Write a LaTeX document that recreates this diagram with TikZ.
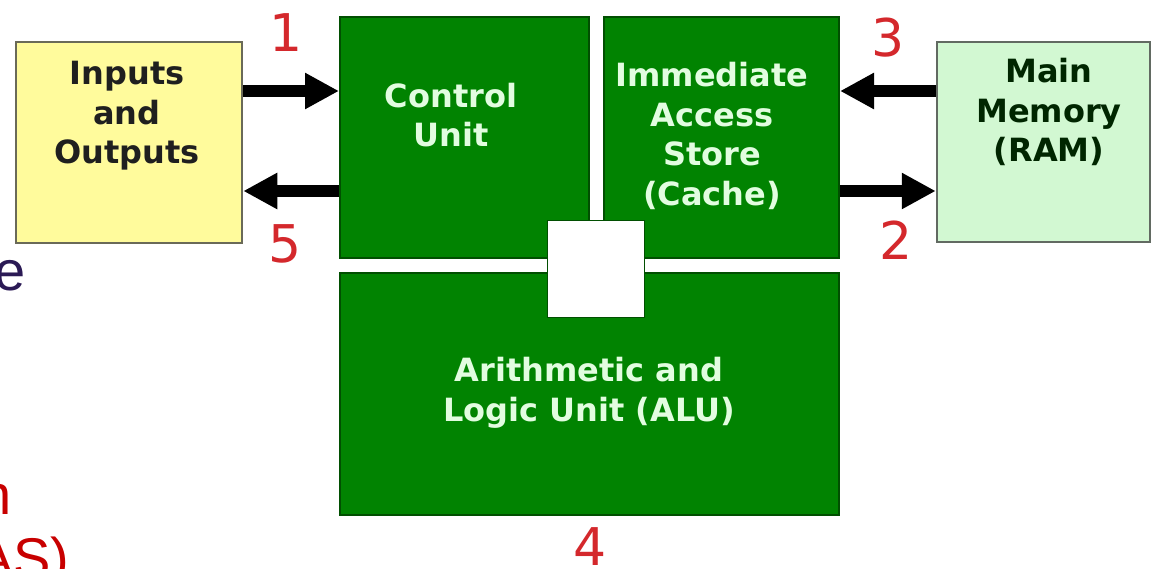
\documentclass[tikz,border=0pt]{standalone}
\usepackage{xcolor}
\usepackage{fontspec}
\setmainfont{DejaVu Sans}
\newfontfamily\slidefont{Liberation Sans}
\usepackage{tikz}
\usetikzlibrary{positioning,calc,arrows.meta}

\definecolor{iofill}{HTML}{FFFB9C}
\definecolor{ioline}{HTML}{6A6A58}
\definecolor{memfill}{HTML}{D2F8D2}
\definecolor{memline}{HTML}{626A62}
\definecolor{cpufill}{HTML}{018301}
\definecolor{cpuline}{HTML}{014F01}
\definecolor{cputext}{HTML}{E2FDE0}
\definecolor{numred}{HTML}{D4282C}
\definecolor{slidered}{HTML}{C80000}
\definecolor{slidepurple}{HTML}{2B1A55}

\begin{document}
\begin{tikzpicture}[x=1pt, y=-1pt,
    box/.style={draw, line width=2.5pt, inner sep=0pt},
    unit/.style={box, fill=cpufill, draw=cpuline, line width=2pt},
    lbl/.style={align=center, inner sep=0pt, font=\bfseries\fontsize{32}{39.5}\selectfont},
    num/.style={anchor=base, inner sep=0pt, text=numred, font=\fontsize{52}{52}\selectfont},
    bigarrow/.style={line width=11.5pt, -{Triangle[length=34pt,width=34pt]}}]
  \useasboundingbox (0,0) rectangle (1153,569);
  \clip (0,0) rectangle (1153,569);

  % phan chu cua slide bi cat o mep trai
  \node[anchor=base west, inner sep=0, text=slidepurple, font=\slidefont\fontsize{56}{56}\selectfont] (frage) at (-6,290) {e};
  \node[anchor=base west, inner sep=0, text=slidered, font=\slidefont\fontsize{56}{56}\selectfont] (fragn) at (-20,514) {n};
  \node[anchor=base west, inner sep=0, text=slidered, font=\slidefont\fontsize{56}{56}\selectfont] (fragas) at (-24,577) {AS)};

  \node[box, fill=iofill, draw=ioline, minimum width=226pt, minimum height=201pt] (io) at (129,142.5) {};
  \node[box, fill=memfill, draw=memline, minimum width=213pt, minimum height=200pt] (mm) at (1043.5,142) {};

  \node[unit, minimum width=249pt, minimum height=241pt] (cu) at (464.5,137.5) {};
  \node[unit, minimum width=235pt, minimum height=241pt] (cache) at (721.5,137.5) {};
  \node[unit, minimum width=499pt, minimum height=242pt] (alu) at (589.5,394) {};
  \node[draw=cpuline, line width=1pt, fill=white, minimum width=97pt, minimum height=96pt] (gap) at (595.5,269) {};

  \node[lbl, text=black!88] (iotxt) at (127,116) {Inputs\\and\\Outputs};
  \node[lbl, text=black!85!green] (mmtxt) at (1049,112) {\fontsize{32}{37}\selectfont Main\\Memory\\(RAM)};
  \node[lbl, text=cputext] (cutxt) at (451,115) {Control\\Unit};
  \node[lbl, text=cputext] (cachetxt) at (712,136) {Immediate\\Access\\Store\\(Cache)};
  \node[lbl, text=cputext] (alutxt) at (589,393) {\fontsize{32}{32}\selectfont Arithmetic and\\Logic Unit (ALU)};

  \draw[bigarrow] (io.east |- 0,91) -- (cu.west |- 0,91);
  \draw[bigarrow] (cu.west |- 0,191) -- (io.east |- 0,191);
  \draw[bigarrow] (mm.west |- 0,91) -- (cache.east |- 0,91);
  \draw[bigarrow] (cache.east |- 0,191) -- (mm.west |- 0,191);

  \node[num] (n1) at (286,52) {1};
  \node[num] (n2) at (896,260) {2};
  \node[num] (n3) at (888,57) {3};
  \node[num] (n4) at (590,565) {4};
  \node[num] (n5) at (285,262) {5};
\end{tikzpicture}
\end{document}
